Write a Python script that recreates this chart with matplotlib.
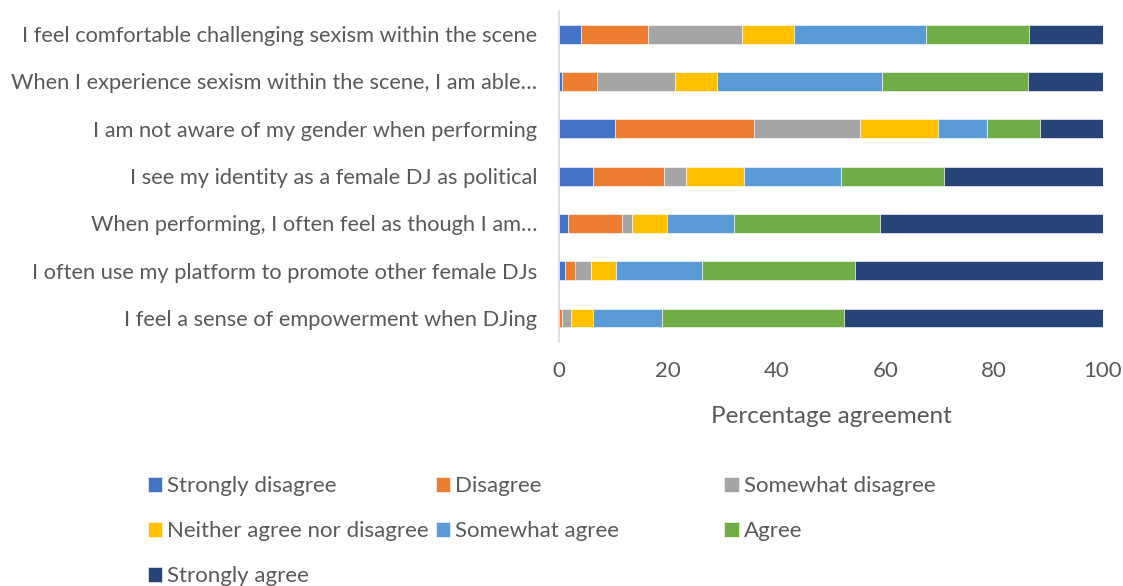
import numpy as np
import matplotlib.pyplot as plt

plt.rcParams['font.family'] = ['Lato', 'DejaVu Sans']

statements = [
    "I feel comfortable challenging sexism within the scene",
    "When I experience sexism within the scene, I am able\u2026",
    "I am not aware of my gender when performing",
    "I see my identity as a female DJ as political",
    "When performing, I often feel as though I am\u2026",
    "I often use my platform to promote other female DJs",
    "I feel a sense of empowerment when DJing",
]
responses = ["Strongly disagree", "Disagree", "Somewhat disagree",
             "Neither agree nor disagree", "Somewhat agree", "Agree",
             "Strongly agree"]
colors = ["#4472C4", "#ED7D31", "#A5A5A5", "#FFC000", "#5B9BD5", "#70AD47", "#264478"]

# percentage per response, one list per response, statements in order above
strongly_disagree = [4.0, 0.5, 10.2, 6.2, 1.6, 1.1, 0.0]
disagree = [12.3, 6.5, 25.6, 13.0, 10.0, 1.8, 0.5]
somewhat_disagree = [17.3, 14.3, 19.5, 4.1, 1.8, 2.9, 1.7]
neither = [9.5, 7.7, 14.4, 10.6, 6.4, 4.7, 4.0]
somewhat_agree = [24.3, 30.4, 9.0, 18.0, 12.4, 15.8, 12.7]
agree = [19.0, 26.9, 9.8, 18.8, 26.8, 28.1, 33.5]
strongly_agree = [13.6, 13.7, 11.5, 29.3, 41.0, 45.6, 47.6]

data = [strongly_disagree, disagree, somewhat_disagree, neither,
        somewhat_agree, agree, strongly_agree]

fig = plt.figure(figsize=(11.23, 5.86), dpi=100)
ax = fig.add_axes([0.498, 0.417, 0.484, 0.565])

y = np.arange(len(statements))
left = np.zeros(len(statements))
bars = []
for vals, name, c in zip(data, responses, colors):
    vals = np.array(vals)
    b = ax.barh(y, vals, left=left, height=0.4, color=c, label=name,
                edgecolor='white', linewidth=0.4)
    bars.append(b)
    left += vals

txt = '#595959'
ax.set_xlim(0, 100)
ax.set_ylim(len(statements) - 0.5, -0.5)
ax.set_yticks(y)
ax.set_yticklabels(statements, fontsize=15.7, color=txt)
ax.set_xticks([0, 20, 40, 60, 80, 100])
ax.tick_params(axis='x', labelsize=16, colors=txt, length=0, pad=14)
ax.tick_params(axis='y', length=0, pad=16)
for s in ['top', 'right', 'bottom']:
    ax.spines[s].set_visible(False)
ax.spines['left'].set_color('#D9D9D9')
ax.spines['left'].set_linewidth(1.2)
ax.set_xlabel("Percentage agreement", fontsize=17.5, color=txt, labelpad=18)

# Legend as three columns placed like the original
columns = [[0, 3, 6], [1, 4], [2, 5]]
col_x = [0.1318, 0.388, 0.645]
for cols, cx in zip(columns, col_x):
    leg = fig.legend([bars[i] for i in cols], [responses[i] for i in cols],
                     loc='upper left', bbox_to_anchor=(cx, 0.187),
                     frameon=False, fontsize=16, handlelength=0.65,
                     handleheight=0.65, handletextpad=0.22, labelspacing=1.12,
                     borderaxespad=0, borderpad=0)
    for t in leg.get_texts():
        t.set_color(txt)

fig.savefig('out.png', dpi=100)
